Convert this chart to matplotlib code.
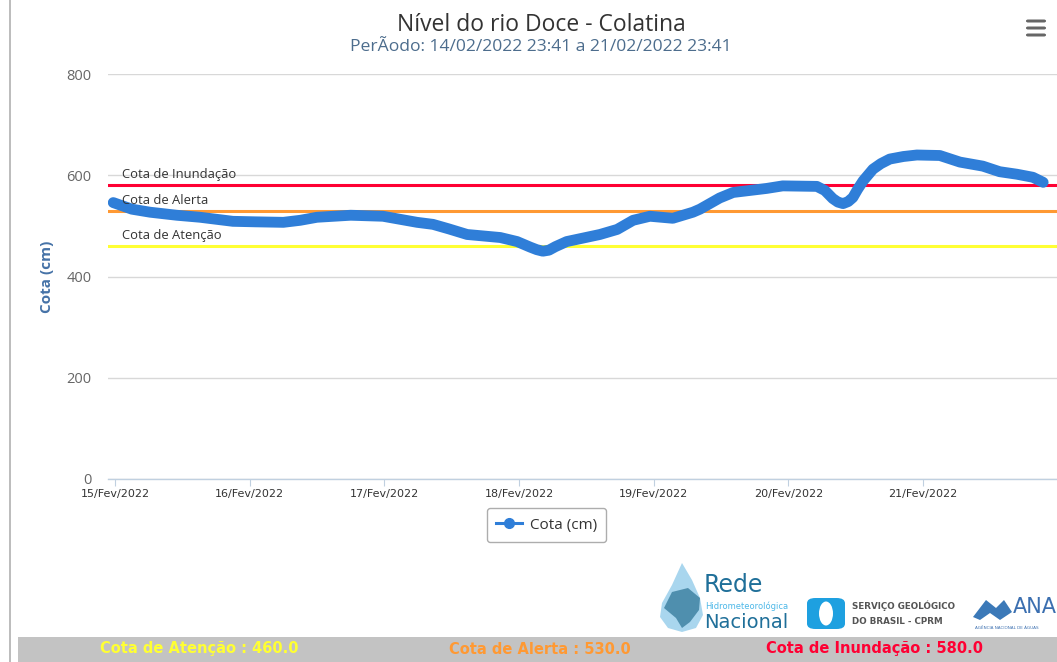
import matplotlib
matplotlib.use('Agg')
import matplotlib.pyplot as plt
import pandas as pd
from matplotlib.patches import Rectangle, FancyBboxPatch, Polygon, Ellipse
from matplotlib.lines import Line2D

# ---------------- data ----------------
times = [
    '2022-02-14 23:41', '2022-02-15 03:00', '2022-02-15 06:15', '2022-02-15 11:00',
    '2022-02-15 15:10', '2022-02-15 21:00', '2022-02-16 01:00', '2022-02-16 06:00',
    '2022-02-16 09:00', '2022-02-16 12:00', '2022-02-16 18:00', '2022-02-16 23:45',
    '2022-02-17 05:50', '2022-02-17 08:40', '2022-02-17 11:30', '2022-02-17 14:45',
    '2022-02-17 20:40', '2022-02-17 23:40', '2022-02-18 02:00', '2022-02-18 03:10',
    '2022-02-18 04:15', '2022-02-18 05:20', '2022-02-18 06:30', '2022-02-18 08:30',
    '2022-02-18 14:25', '2022-02-18 17:30', '2022-02-18 20:20', '2022-02-18 23:20',
    '2022-02-19 03:25', '2022-02-19 07:00', '2022-02-19 08:15', '2022-02-19 11:45',
    '2022-02-19 14:10', '2022-02-19 20:10', '2022-02-19 23:00', '2022-02-20 05:05',
    '2022-02-20 06:30', '2022-02-20 07:55', '2022-02-20 08:50', '2022-02-20 09:45',
    '2022-02-20 10:40', '2022-02-20 11:30', '2022-02-20 12:20', '2022-02-20 13:20',
    '2022-02-20 15:05', '2022-02-20 16:30', '2022-02-20 18:05', '2022-02-20 20:30',
    '2022-02-20 22:55', '2022-02-21 03:00', '2022-02-21 06:35', '2022-02-21 10:40',
    '2022-02-21 13:40', '2022-02-21 16:45', '2022-02-21 19:35', '2022-02-21 21:25',
]
cota = [
    546, 533, 527, 521,
    517, 509, 508, 507,
    511, 517, 521, 519,
    507, 503, 494, 483,
    477, 469, 458, 453,
    450, 452, 459, 469,
    483, 493, 511, 519,
    515, 527, 533, 555,
    566, 574, 579, 578,
    570, 554, 547, 544,
    548, 556, 572, 589,
    612, 623, 632, 637,
    640, 639, 626, 618,
    607, 602, 596, 586,
]
tick_dates = ['2022-02-15', '2022-02-16', '2022-02-17', '2022-02-18',
              '2022-02-19', '2022-02-20', '2022-02-21']
tick_labels = ['15/Fev/2022', '16/Fev/2022', '17/Fev/2022', '18/Fev/2022',
               '19/Fev/2022', '20/Fev/2022', '21/Fev/2022']
y_ticks = [0, 200, 400, 600, 800]
threshold_values = [460, 530, 580]
threshold_names = ['Cota de Atenção', 'Cota de Alerta', 'Cota de Inundação']
threshold_colors = ['#ffff33', '#ff9933', '#ff0033']

title = 'Nível do rio Doce - Colatina'
subtitle = 'PerÃodo: 14/02/2022 23:41 a 21/02/2022 23:41'
series_name = 'Cota (cm)'

# ---------------- figure ----------------
W, H = 1057, 662
fig = plt.figure(figsize=(W / 100, H / 100), dpi=100)
fig.patch.set_facecolor('white')

def fx(px):
    return px / W

def fy(py):
    return 1 - py / H

ax = fig.add_axes([fx(108), fy(479), 1 - fx(108), fy(74) - fy(479)])
ax.set_facecolor('white')

t = pd.to_datetime(times)
ax.plot(t, cota, color='#2f7ed8', lw=7.8, solid_capstyle='round',
        solid_joinstyle='round', zorder=4)

for v, name, c in zip(threshold_values, threshold_names, threshold_colors):
    ax.axhline(v, color=c, lw=2.2, zorder=3)
    ax.text(0.0148, v + 21, name, transform=ax.get_yaxis_transform(),
            fontsize=9.4, color='#333333', va='center', ha='left',
            family=['Open Sans', 'DejaVu Sans'], zorder=5)

ax.set_ylim(0, 800)
ax.set_yticks(y_ticks)
ax.set_yticklabels([str(v) for v in y_ticks], family='Open Sans', fontsize=10.5,
                   color='#666666')
ax.tick_params(axis='y', length=0, pad=12)
ax.grid(axis='y', color='#d8d8d8', lw=1)
ax.set_axisbelow(True)

x0 = pd.Timestamp('2022-02-14 22:45')
x1 = pd.Timestamp('2022-02-21 23:53')
ax.set_xlim(x0, x1)
ax.set_xticks(pd.to_datetime(tick_dates))
ax.set_xticklabels(tick_labels, family=['Liberation Sans Narrow', 'DejaVu Sans'],
                   fontsize=8, color='#333333')
ax.tick_params(axis='x', length=5, color='#c0d0e0', pad=2)

for s in ['top', 'right', 'left']:
    ax.spines[s].set_visible(False)
ax.spines['bottom'].set_color('#c0d0e0')
ax.spines['bottom'].set_linewidth(1)

ax.set_ylabel('Cota (cm)', family='Open Sans', fontsize=11, fontweight='bold',
              color='#4572a7', labelpad=9)

# title & subtitle
fig.text(fx(541), fy(25), title, ha='center', va='center', fontsize=16.5,
         color='#333333', family='Open Sans')
fig.text(fx(541), fy(47), subtitle, ha='center', va='center', fontsize=12.6,
         color='#4d6d8d', family='Open Sans')

# legend
handle = Line2D([], [], color='#2f7ed8', lw=2.2, marker='o', markersize=7)
leg = fig.legend([handle], [series_name], loc='center',
                 bbox_to_anchor=(fx(546.5), fy(525)), frameon=True,
                 fancybox=True, prop={'family': 'Open Sans', 'size': 11},
                 handlelength=1.7, handletextpad=0.5, borderpad=0.6,
                 edgecolor='#999999', labelcolor='#333333')
leg.get_frame().set_linewidth(1)

# menu icon
for yy in (21, 28, 35):
    fig.patches.append(FancyBboxPatch((fx(1026), fy(yy + 1.5)), fx(20), 3 / H,
                                      boxstyle='round,pad=0,rounding_size=0.002',
                                      transform=fig.transFigure,
                                      facecolor='#666666', edgecolor='none'))

# page border on left
fig.add_artist(Line2D([fx(10), fx(10)], [0, 1], transform=fig.transFigure,
                      color='#b0b0b0', lw=1.2))

# bottom band
fig.patches.append(Rectangle((fx(18), 0), 1 - fx(18), 25 / H,
                             transform=fig.transFigure, facecolor='#c3c3c3',
                             edgecolor='none'))
band_x = [199, 540, 874]
for bx, name, v, c in zip(band_x, threshold_names, threshold_values, threshold_colors):
    fig.text(fx(bx), fy(649), f'{name} : {v:.1f}', ha='center', va='center',
             fontsize=10.5, fontweight='bold', color=c,
             family=['Liberation Sans Narrow', 'DejaVu Sans'])

# logos (approximations)
drop = Polygon([(fx(682), fy(563)), (fx(672), fy(585)), (fx(662), fy(603)),
                (fx(660), fy(617)), (fx(668), fy(628)), (fx(682), fy(632)),
                (fx(696), fy(628)), (fx(703), fy(615)), (fx(700), fy(598)),
                (fx(692), fy(580))], closed=True, transform=fig.transFigure,
               facecolor='#a9d6ee', edgecolor='none')
fig.patches.append(drop)
brazil = Polygon([(fx(672), fy(592)), (fx(688), fy(588)), (fx(700), fy(598)),
                  (fx(699), fy(610)), (fx(690), fy(622)), (fx(682), fy(628)),
                  (fx(676), fy(618)), (fx(664), fy(608))], closed=True,
                 transform=fig.transFigure, facecolor='#4f8fae', edgecolor='none')
fig.patches.append(brazil)
fig.text(fx(704), fy(585), 'Rede', fontsize=17, color='#1f6f99', va='center',
         ha='left', family=['Liberation Sans Narrow', 'DejaVu Sans'])
fig.text(fx(705), fy(606), 'Hidrometeorológica', fontsize=6, color='#4db8e8',
         va='center', ha='left', family=['Liberation Sans Narrow', 'DejaVu Sans'])
fig.text(fx(704), fy(622), 'Nacional', fontsize=14, color='#1f6f99', va='center',
         ha='left', family=['Liberation Sans Narrow', 'DejaVu Sans'])

fig.patches.append(FancyBboxPatch((fx(807), fy(629)), fx(38), 31 / H,
                                  boxstyle='round,pad=0,rounding_size=0.008',
                                  transform=fig.transFigure,
                                  facecolor='#1ea0e0', edgecolor='none'))
fig.patches.append(Ellipse((fx(826), fy(613.5)), fx(14), 24 / H,
                           transform=fig.transFigure, facecolor='white',
                           edgecolor='none'))
fig.text(fx(852), fy(606), 'SERVIÇO GEOLÓGICO', fontsize=6.3, fontweight='bold',
         color='#555555', va='center', ha='left', family='DejaVu Sans')
fig.text(fx(852), fy(622), 'DO BRASIL - CPRM', fontsize=6.3, fontweight='bold',
         color='#555555', va='center', ha='left', family='DejaVu Sans')

wave = Polygon([(fx(973), fy(617)), (fx(986), fy(600)), (fx(996), fy(608)),
                (fx(1004), fy(600)), (fx(1012), fy(612)), (fx(1000), fy(620)),
                (fx(990), fy(613)), (fx(980), fy(620))], closed=True,
               transform=fig.transFigure, facecolor='#3b79b8', edgecolor='none')
fig.patches.append(wave)
fig.text(fx(1013), fy(607), 'ANA', fontsize=15, color='#3b6fb0', va='center',
         ha='left', family='DejaVu Sans')
fig.text(fx(975), fy(628), 'AGÊNCIA NACIONAL DE ÁGUAS', fontsize=3, color='#3b6fb0',
         va='center', ha='left', family='DejaVu Sans')

fig.savefig('out.png', dpi=100, facecolor='white')
